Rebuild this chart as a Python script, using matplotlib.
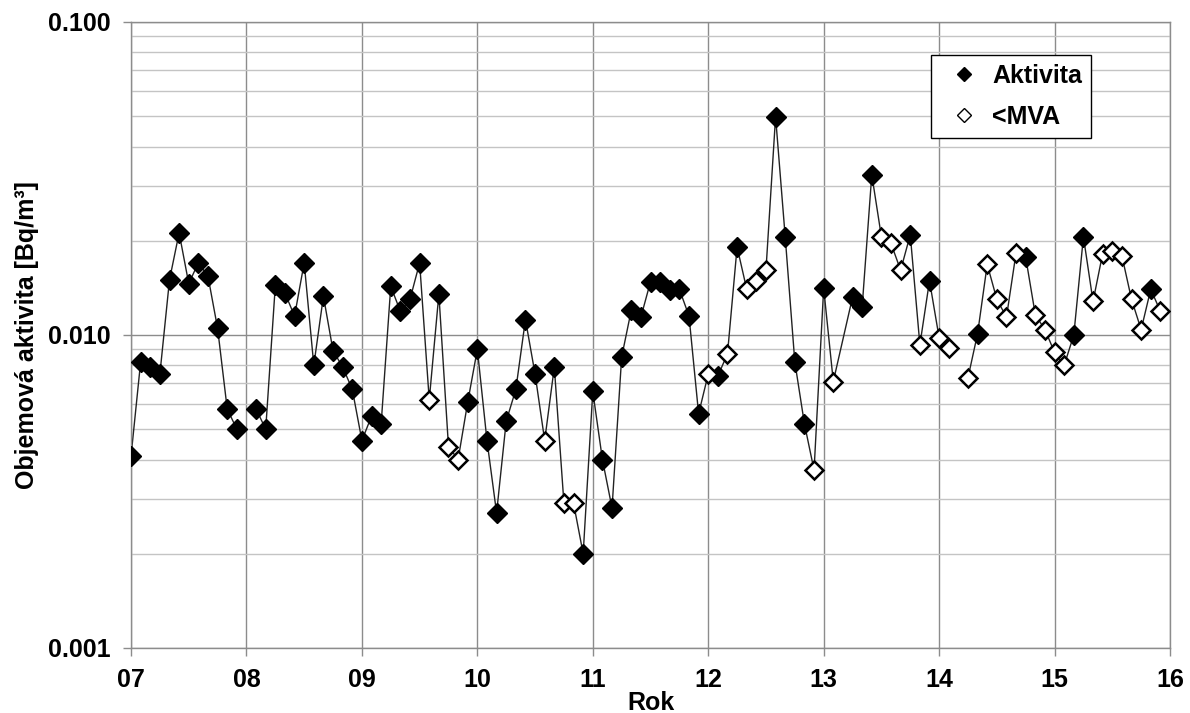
import numpy as np
import matplotlib.pyplot as plt
from matplotlib.lines import Line2D
from matplotlib.ticker import FixedLocator, NullFormatter, FuncFormatter

plt.rcParams['font.family'] = ['Liberation Sans', 'DejaVu Sans']
plt.rcParams['font.weight'] = 'bold'

year_labels = ["07", "08", "09", "10", "11", "12", "13", "14", "15", "16"]

# monthly volume activity [Bq/m3], Jan..Dec, None = no sample
y2007 = [0.0041, 0.0082, 0.0079, 0.0075, 0.0150, 0.0212, 0.0146, 0.0170, 0.0154, 0.0105, 0.0058, 0.0050]
y2008 = [None, 0.0058, 0.0050, 0.0144, 0.0136, 0.0115, 0.0170, 0.0080, 0.0133, 0.0089, 0.0079, 0.0067]
y2009 = [0.0046, 0.0055, 0.0052, 0.0143, 0.0119, 0.0130, 0.0170, 0.0062, 0.0135, 0.0044, 0.0040, 0.0061]
y2010 = [0.0090, 0.0046, 0.0027, 0.0053, 0.0067, 0.0112, 0.0075, 0.0046, 0.0079, 0.0029, 0.0029, 0.0020]
y2011 = [0.0066, 0.0040, 0.0028, 0.0085, 0.0120, 0.0114, 0.0148, 0.0148, 0.0139, 0.0140, 0.0115, 0.0056]
y2012 = [0.0075, 0.0074, 0.0087, 0.0191, 0.0140, 0.0149, 0.0161, 0.0498, 0.0206, 0.0082, 0.0052, 0.0037]
y2013 = [0.0141, 0.0071, None, 0.0132, 0.0123, 0.0325, 0.0206, 0.0196, 0.0161, 0.0209, 0.0093, 0.0149]
y2014 = [0.0098, 0.0091, None, 0.0073, 0.0101, 0.0168, 0.0130, 0.0114, 0.0183, 0.0177, 0.0116, 0.0104]
y2015 = [0.0088, 0.0080, 0.0100, 0.0206, 0.0128, 0.0182, 0.0185, 0.0179, 0.0130, 0.0104, 0.0140, 0.0119]

# 1 = result below MVA (value shown is the MVA)
m2007 = [0, 0, 0, 0, 0, 0, 0, 0, 0, 0, 0, 0]
m2008 = [0, 0, 0, 0, 0, 0, 0, 0, 0, 0, 0, 0]
m2009 = [0, 0, 0, 0, 0, 0, 0, 1, 0, 1, 1, 0]
m2010 = [0, 0, 0, 0, 0, 0, 0, 1, 0, 1, 1, 0]
m2011 = [0, 0, 0, 0, 0, 0, 0, 0, 0, 0, 0, 0]
m2012 = [1, 0, 1, 0, 1, 1, 1, 0, 0, 0, 0, 1]
m2013 = [0, 1, 0, 0, 0, 0, 1, 1, 1, 0, 1, 0]
m2014 = [1, 1, 0, 1, 0, 1, 1, 1, 1, 0, 1, 1]
m2015 = [1, 1, 0, 0, 1, 1, 1, 1, 1, 1, 0, 1]

# months where the connecting line is interrupted (index from Jan 2007)
line_breaks = [12, 86]

values = y2007 + y2008 + y2009 + y2010 + y2011 + y2012 + y2013 + y2014 + y2015
mva = m2007 + m2008 + m2009 + m2010 + m2011 + m2012 + m2013 + m2014 + m2015

v = np.array([np.nan if a is None else a for a in values])
below = np.array(mva, dtype=bool)
t = 7 + np.arange(len(v)) / 12.0

# line: skip months without sample, except where the series is broken
keep = ~np.isnan(v) | np.isin(np.arange(len(v)), line_breaks)
lt, lv = t[keep], v[keep]

fig = plt.figure(figsize=(11.9, 7.13), dpi=100)
ax = fig.add_axes([0.1101, 0.0912, 0.8731, 0.878])

ax.plot(lt, lv, color="#222222", lw=1.0, zorder=2)
ok = ~np.isnan(v)
ax.plot(t[ok & ~below], v[ok & ~below], ls="none", marker="D", ms=10,
        mfc="black", mec="black", mew=1, zorder=3)
ax.plot(t[ok & below], v[ok & below], ls="none", marker="D", ms=9,
        mfc="white", mec="black", mew=1.8, zorder=3)

ax.set_yscale("log")
ax.set_ylim(0.001, 0.1)
ax.set_xlim(7, 16)

ax.xaxis.set_major_locator(FixedLocator(np.arange(7, 17)))
ax.set_xticklabels(year_labels)
ax.yaxis.set_major_locator(FixedLocator([0.001, 0.01, 0.1]))
ax.yaxis.set_major_formatter(FuncFormatter(lambda y, p: "%.3f" % y))
minors = [m * d for d in (0.001, 0.01) for m in range(2, 10)]
ax.yaxis.set_minor_locator(FixedLocator(minors))
ax.yaxis.set_minor_formatter(NullFormatter())

ax.grid(True, which="major", axis="both", color="#8c8c8c", lw=1.0)
ax.grid(True, which="minor", axis="y", color="#c4c4c4", lw=1.0)
ax.set_axisbelow(True)
ax.tick_params(axis="both", which="major", labelsize=18, length=5.5,
               color="#8c8c8c", width=1.0)
ax.tick_params(axis="x", which="major", pad=9)
ax.tick_params(axis="y", which="major", pad=9.5)
ax.tick_params(axis="y", which="minor", length=0)
for s in ax.spines.values():
    s.set_color("#8c8c8c")
    s.set_linewidth(1.0)

ax.set_xlabel("Rok", fontsize=18, fontweight="bold", labelpad=-1)
ax.set_ylabel("Objemová aktivita [Bq/m³]", fontsize=18, fontweight="bold", labelpad=6)

handles = [
    Line2D([], [], ls="none", marker="D", ms=7.5, mfc="black", mec="black"),
    Line2D([], [], ls="none", marker="D", ms=7.5, mfc="white", mec="black", mew=1.0),
]
leg = ax.legend(handles, ["Aktivita", "<MVA"], loc="upper left",
                bbox_to_anchor=(0.770, 0.947), borderaxespad=0, fancybox=False,
                framealpha=1, edgecolor="black", prop={"size": 18, "weight": "bold"},
                handlelength=1.9, handletextpad=0.2, borderpad=0.35, labelspacing=0.68)
leg.get_frame().set_linewidth(1.0)

fig.savefig("out.png", dpi=100)
